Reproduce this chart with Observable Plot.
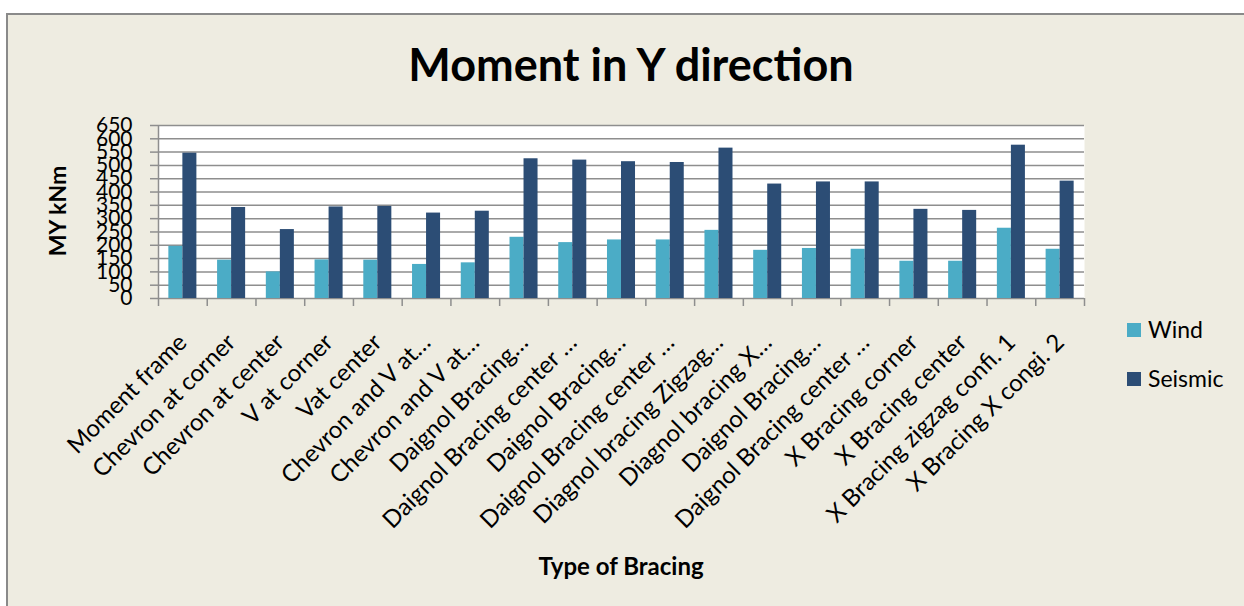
<!DOCTYPE html>
<html><head><meta charset="utf-8">
<script src="https://cdn.jsdelivr.net/npm/d3@7"></script>
<script src="https://cdn.jsdelivr.net/npm/@observablehq/plot@0.6"></script>
<style>
html,body{margin:0;padding:0;background:#fff;}
#wrap{position:relative;width:1244px;height:606px;overflow:hidden;font-family:Lato,sans-serif;color:#000;}
#bg{position:absolute;left:6px;top:13px;width:1240px;height:600px;background:#EEECE1;border-left:2px solid #8a8a8a;border-top:2px solid #8a8a8a;}
#chart{position:absolute;left:0;top:0;}
.t{position:absolute;white-space:nowrap;line-height:1;}
#title{left:631px;top:42px;transform:translateX(-50%);font-weight:bold;font-size:45px;}
#ylab{left:57px;top:211px;transform:translate(-50%,-50%) rotate(-90deg);font-weight:bold;font-size:23px;}
#xlab{left:621px;top:554px;transform:translateX(-50%);font-weight:bold;font-size:24px;}
.leg{position:absolute;left:1127px;width:14px;height:14px;}
.legt{left:1148px;font-size:23px;}
</style>
</head><body>
<div id="wrap">
  <div id="bg"></div>
  <div id="chart"></div>
  <div class="t" id="title">Moment in Y direction</div>
  <div class="t" id="ylab">MY kNm</div>
  <div class="t" id="xlab">Type of Bracing</div>
  <div class="leg" style="top:323px;background:#4BACC6"></div>
  <div class="t legt" style="top:318px">Wind</div>
  <div class="leg" style="top:372px;background:#2C4D75"></div>
  <div class="t legt" style="top:367px">Seismic</div>
</div>
<script>
const categories = [
  "Moment frame", "Chevron at corner", "Chevron at center", "V at corner", "Vat center",
  "Chevron and V at…", "Chevron and V at…", "Daignol Bracing…", "Daignol Bracing center …",
  "Daignol Bracing…", "Daignol Bracing center …", "Diagnol bracing Zigzag…", "Diagnol bracing X…",
  "Daignol Bracing…", "Daignol Bracing center …", "X Bracing corner", "X Bracing center",
  "X Bracing zigzag confi. 1", "X Bracing X congi. 2"
];
const wind =    [196, 144, 100, 145, 144, 128, 134, 230, 210, 220, 220, 256, 181, 188, 185, 140, 140, 264, 185];
const seismic = [546, 342, 259, 344, 346, 321, 328, 525, 520, 514, 511, 565, 430, 438, 438, 335, 331, 576, 441];
const yTicks = d3.range(0, 651, 50);
const seriesColors = {Wind: "#4BACC6", Seismic: "#2C4D75"};

const data = categories.map((c, i) => ({i, c, wind: wind[i], seismic: seismic[i]}));
const gridColor = "#8e8e8e";
const n = categories.length;

const chart = Plot.plot({
  width: 1244, height: 606,
  marginLeft: 158, marginRight: 160, marginTop: 125, marginBottom: 308,
  style: {background: "transparent", fontFamily: "Lato, sans-serif", fontSize: "21px", color: "#000"},
  x: {domain: [0, n], axis: null},
  y: {domain: [0, 650], axis: null},
  marks: [
    Plot.frame({fill: "#fff", stroke: "none"}),
    Plot.ruleY(yTicks, {stroke: gridColor, strokeWidth: 1.5}),
    Plot.rect(data, {x1: "i", x2: d => d.i + 1, y1: 0, y2: "wind", fill: seriesColors.Wind, insetLeft: 10.35, insetRight: 24.37}),
    Plot.rect(data, {x1: "i", x2: d => d.i + 1, y1: 0, y2: "seismic", fill: seriesColors.Seismic, insetLeft: 24.37, insetRight: 10.35}),
    Plot.ruleX([0], {stroke: gridColor, strokeWidth: 1.5}),
    Plot.axisY(yTicks, {tickSize: 8, tickPadding: 18, stroke: gridColor, strokeWidth: 1.5, label: null}),
    Plot.axisX(d3.range(n + 1), {tickSize: 8, fill: "none", stroke: gridColor, strokeWidth: 1.5, label: null}),
    Plot.axisX(data.map(d => d.i + 0.5), {tickSize: 0, tickRotate: -45, tickPadding: 40, fontSize: 24, tickFormat: v => categories[Math.floor(v)], label: null})
  ]
});
document.getElementById("chart").appendChild(chart);
</script>
</body></html>
